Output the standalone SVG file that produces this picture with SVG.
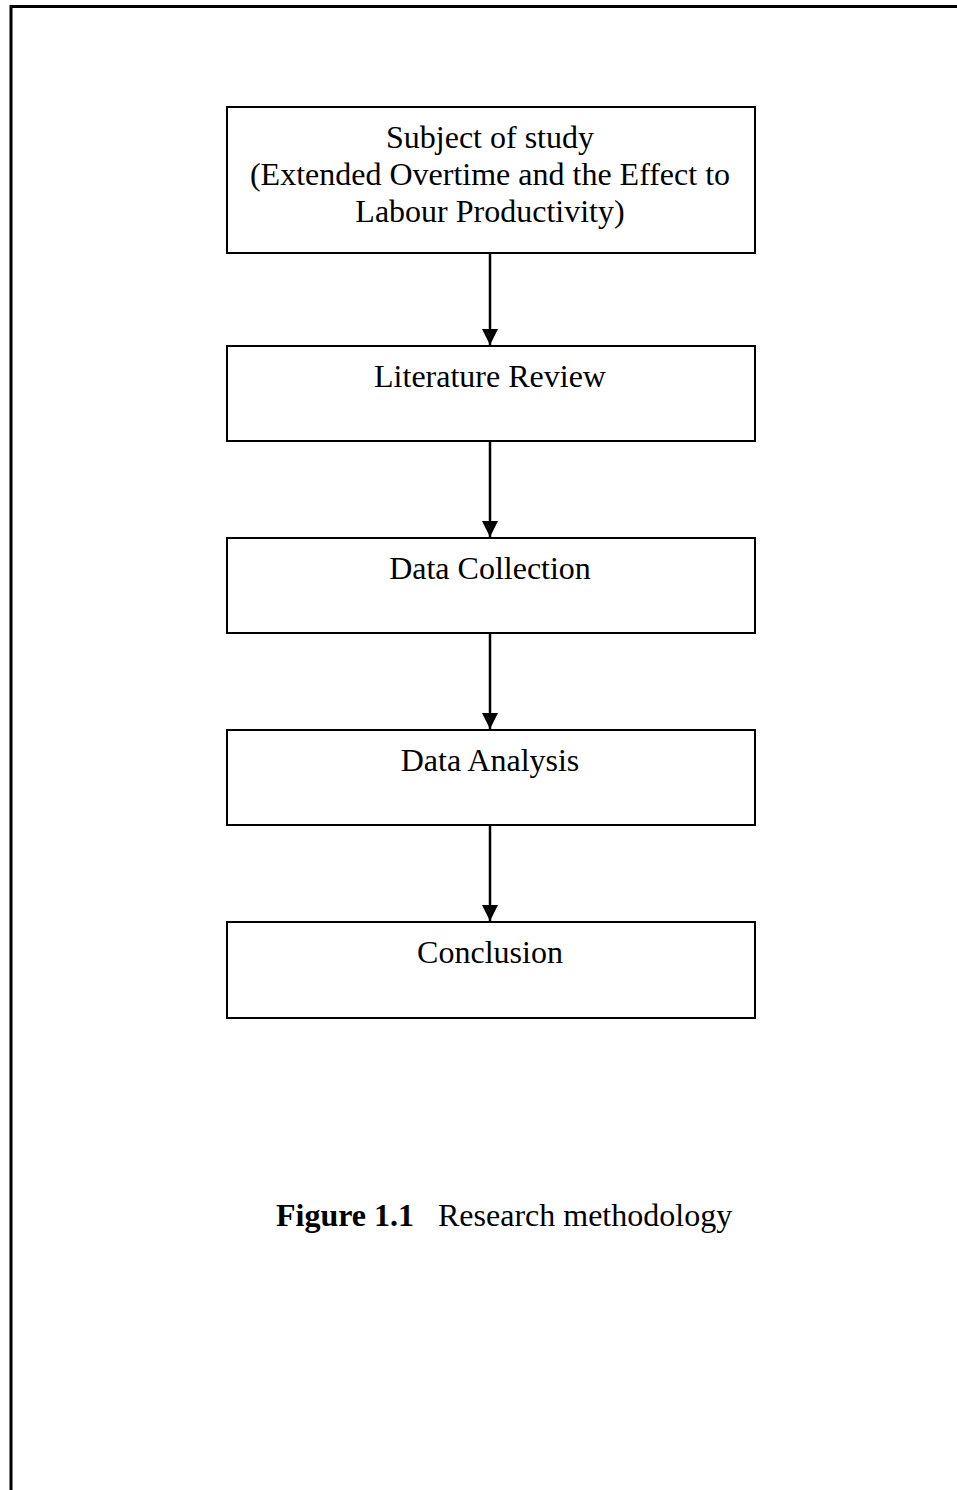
<svg xmlns="http://www.w3.org/2000/svg" width="957" height="1490" viewBox="0 0 957 1490">
<style>
.box{fill:#fff;stroke:#000;stroke-width:2}
.t{font-family:"Liberation Serif","Times New Roman",serif;font-size:32px;fill:#000;text-anchor:middle}
.c{stroke:#000;stroke-width:2.5;fill:none}
</style>
<defs>
<marker id="arr" markerWidth="16" markerHeight="16" refX="16" refY="8" orient="auto" markerUnits="userSpaceOnUse" viewBox="0 0 16 16">
<path d="M0,0 L16,8 L0,16 Z" fill="#000"/>
</marker>
</defs>
<rect width="957" height="1490" fill="#fff"/>
<path d="M11,1490 V6.5 H957" fill="none" stroke="#000" stroke-width="3"/>
<g id="connectors">
<line class="c" x1="490" y1="253" x2="490" y2="345" marker-end="url(#arr)"/>
<line class="c" x1="490" y1="441" x2="490" y2="537" marker-end="url(#arr)"/>
<line class="c" x1="490" y1="633" x2="490" y2="729" marker-end="url(#arr)"/>
<line class="c" x1="490" y1="825" x2="490" y2="921" marker-end="url(#arr)"/>
</g>
<g id="subject">
<rect class="box" x="227" y="107" width="528" height="146"/>
<text class="t" x="490" y="148">Subject of study</text>
<text class="t" x="490" y="185">(Extended Overtime and the Effect to</text>
<text class="t" x="490" y="222">Labour Productivity)</text>
</g>
<g id="literature">
<rect class="box" x="227" y="346" width="528" height="95"/>
<text class="t" x="490" y="387">Literature Review</text>
</g>
<g id="collection">
<rect class="box" x="227" y="538" width="528" height="95"/>
<text class="t" x="490" y="579">Data Collection</text>
</g>
<g id="analysis">
<rect class="box" x="227" y="730" width="528" height="95"/>
<text class="t" x="490" y="771">Data Analysis</text>
</g>
<g id="conclusion">
<rect class="box" x="227" y="922" width="528" height="96"/>
<text class="t" x="490" y="963">Conclusion</text>
</g>
<g id="caption">
<text x="276" y="1226" font-family="Liberation Serif,'Times New Roman',serif" font-size="32" fill="#000"><tspan font-weight="bold">Figure 1.1</tspan><tspan x="438">Research methodology</tspan></text>
</g>
</svg>
